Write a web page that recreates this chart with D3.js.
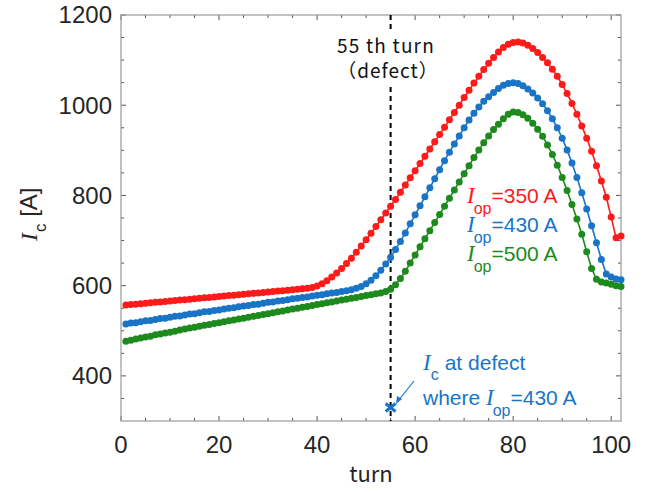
<!DOCTYPE html>
<html><head><meta charset="utf-8">
<script src="https://cdn.jsdelivr.net/npm/d3@7"></script>
<style>body{margin:0;background:#fff}</style>
</head><body>
<script>
// ---- data ----
const turns = d3.range(1, 103);
const red350 = [557,558,559,560,561,562,563,564,565,566,567,568,569,570,571,572,573,574,575,576,
  577,578,579,580,581,582,583,584,585,586,587,588,589,590,591,592,593,594,596,599,
  604,611,619,628,638,649,661,674,688,702,716,731,746,761,776,791,807,823,839,855,
  871,887,903,919,935,951,968,984,1000,1017,1033,1049,1064,1079,1093,1106,1118,1128,1135,1139,
  1140,1138,1133,1126,1117,1106,1094,1080,1064,1046,1026,1004,980,954,927,898,866,832,796,752,
  706,710];
const blue430 = [515,517,518,520,522,523,525,527,528,530,532,533,535,537,538,540,542,543,545,546,
  548,550,551,553,555,556,558,559,561,563,564,566,567,569,571,572,574,575,577,579,
  580,582,584,585,587,589,591,594,598,604,612,622,634,648,663,680,698,717,737,757,
  777,797,817,837,857,877,896,914,932,950,967,982,996,1009,1019,1028,1037,1044,1048,1050,
  1048,1043,1036,1027,1016,1003,988,970,950,927,901,872,840,806,770,733,695,658,626,619,
  615,613];
const green500 = [477,479,482,484,486,488,491,493,495,497,499,502,504,506,508,510,512,514,516,518,
  520,522,524,526,528,530,532,534,536,538,540,542,544,546,548,550,552,554,556,558,
  560,562,564,566,568,570,572,574,576,578,580,582,584,587,592,602,616,632,650,668,
  686,704,722,740,758,776,794,812,830,848,866,884,901,917,932,946,958,970,980,985,
  984,979,971,960,947,931,912,891,867,840,811,780,748,714,675,638,614,608,606,603,
  600,598];
const seriesNames = ["350","430","500"];
const seriesColors = ["#ff1a1a","#1a74c6","#1c8a1c"];
const xMajor = [0,20,40,60,80,100];
const yMajor = [400,600,800,1000,1200];
const defectTurn = 55;
const defectIc = 330;

// ---- chart ----
const W = 652, H = 492;
const svg = d3.select("body").append("svg").attr("width", W).attr("height", H)
  .style("font-family", "'Liberation Sans', Arial, sans-serif");
const x = d3.scaleLinear().domain([0, 102]).range([121, 621]);
const y = d3.scaleLinear().domain([300, 1200]).range([421, 15]);

const frameCol = "#9a9a9a", tickCol = "#555";
const xMinor = d3.range(0, 101, 5).filter(v => !xMajor.includes(v));
const yMinor = d3.range(350, 1200, 50).filter(v => !yMajor.includes(v));

function drawTicks(){
  const g = svg.append("g").attr("stroke", tickCol).attr("stroke-width", 1);
  const L = 5, l = 3;
  xMajor.forEach(v => {
    g.append("line").attr("x1", x(v)).attr("x2", x(v)).attr("y1", y(300)).attr("y2", y(300)-L);
    g.append("line").attr("x1", x(v)).attr("x2", x(v)).attr("y1", y(1200)).attr("y2", y(1200)+L);
  });
  xMinor.forEach(v => {
    g.append("line").attr("x1", x(v)).attr("x2", x(v)).attr("y1", y(300)).attr("y2", y(300)-l);
    g.append("line").attr("x1", x(v)).attr("x2", x(v)).attr("y1", y(1200)).attr("y2", y(1200)+l);
  });
  yMajor.forEach(v => {
    g.append("line").attr("x1", x(0)).attr("x2", x(0)+L).attr("y1", y(v)).attr("y2", y(v));
    g.append("line").attr("x1", x(102)).attr("x2", x(102)-L).attr("y1", y(v)).attr("y2", y(v));
  });
  yMinor.forEach(v => {
    g.append("line").attr("x1", x(0)).attr("x2", x(0)+l).attr("y1", y(v)).attr("y2", y(v));
    g.append("line").attr("x1", x(102)).attr("x2", x(102)-l).attr("y1", y(v)).attr("y2", y(v));
  });
}
drawTicks();

svg.append("rect").attr("x", x(0)).attr("y", y(1200))
  .attr("width", x(102)-x(0)).attr("height", y(300)-y(1200))
  .attr("fill", "none").attr("stroke", frameCol).attr("stroke-width", 1.2);

// tick labels
svg.append("g").selectAll("text").data(xMajor).join("text")
  .attr("x", d => x(d)).attr("y", 453).attr("text-anchor", "middle")
  .attr("font-size", 24).attr("fill", "#262626").text(d => d);
svg.append("g").selectAll("text").data(yMajor).join("text")
  .attr("x", 112).attr("y", d => y(d)).attr("dy", "0.35em").attr("text-anchor", "end")
  .attr("font-size", 24).attr("fill", "#262626").text(d => d);

// axis titles
svg.append("text").attr("x", 371).attr("y", 482).attr("text-anchor", "middle")
  .attr("font-family", "'Noto Sans CJK JP', sans-serif").attr("font-size", 22).attr("fill", "#262626").text("turn");
const yl = svg.append("text").attr("transform", "translate(37,241) rotate(-90)")
  .attr("font-size", 24).attr("fill", "#262626");
yl.append("tspan").attr("font-family", "'Liberation Serif', serif").attr("font-style", "italic").text("I");
yl.append("tspan").attr("font-size", 17).attr("dy", 9).attr("dx", 1).text("c");
yl.append("tspan").attr("dy", -9).text(" [A]");

// defect dashed line
svg.append("line").attr("x1", x(defectTurn)).attr("x2", x(defectTurn))
  .attr("y1", y(1200)).attr("y2", y(300))
  .attr("stroke", "#000").attr("stroke-width", 2).attr("stroke-dasharray", "5,4");
svg.append("rect").attr("x", 334).attr("y", 30).attr("width", 104).attr("height", 54).attr("fill", "#fff");
svg.append("text").attr("x", 386).attr("y", 53).attr("text-anchor", "middle")
  .attr("font-family", "'Noto Sans CJK JP', sans-serif").attr("font-size", 19)
  .attr("letter-spacing", 1.2).attr("fill", "#111").text("55 th turn");
svg.append("text").attr("x", 388).attr("y", 78).attr("text-anchor", "middle")
  .attr("font-family", "'Noto Sans CJK JP', sans-serif").attr("font-size", 19)
  .attr("letter-spacing", 1).attr("fill", "#111").text("（defect）");

// series
const all = [red350, blue430, green500];
const line = d3.line().x((d, i) => x(turns[i])).y(d => y(d));
all.forEach((vals, k) => {
  const g = svg.append("g");
  g.append("path").attr("d", line(vals)).attr("fill", "none")
    .attr("stroke", seriesColors[k]).attr("stroke-width", 1.6);
  g.selectAll("circle").data(vals).join("circle")
    .attr("cx", (d, i) => x(turns[i])).attr("cy", d => y(d)).attr("r", 3.5)
    .attr("fill", seriesColors[k]);
});

// legend text
const legY = [203, 232, 261];
seriesNames.forEach((n, k) => {
  const t = svg.append("text").attr("x", 467).attr("y", legY[k]).attr("font-size", 21).attr("fill", seriesColors[k]);
  t.append("tspan").attr("font-family", "'Liberation Serif', serif").attr("font-style", "italic").attr("font-size", 23).text("I");
  t.append("tspan").attr("font-size", 16).attr("dy", 11).attr("dx", -1).text("op");
  t.append("tspan").attr("dy", -11).text("=" + n + " A");
});

// defect marker & annotation
const bc = seriesColors[1];
const mx = x(defectTurn), my = y(defectIc);
svg.append("path").attr("d", `M${mx-5},${my-4}L${mx+5},${my+4}M${mx+5},${my-4}L${mx-5},${my+4}`)
  .attr("stroke", bc).attr("stroke-width", 3);
svg.append("line").attr("x1", 414).attr("y1", 381).attr("x2", 398).attr("y2", 401)
  .attr("stroke", bc).attr("stroke-width", 1.2);
svg.append("path").attr("d", "M396,404 L397,396 L402,399 Z").attr("fill", bc);
const a1 = svg.append("text").attr("x", 423).attr("y", 370).attr("font-size", 21).attr("fill", bc);
a1.append("tspan").attr("font-family", "'Liberation Serif', serif").attr("font-style", "italic").attr("font-size", 23).text("I");
a1.append("tspan").attr("font-size", 16).attr("dy", 10).text("c");
a1.append("tspan").attr("dy", -10).attr("dx", 6).text("at defect");
const a2 = svg.append("text").attr("x", 423).attr("y", 405).attr("font-size", 21).attr("fill", bc);
a2.append("tspan").text("where ");
a2.append("tspan").attr("font-family", "'Liberation Serif', serif").attr("font-style", "italic").attr("font-size", 23).text("I");
a2.append("tspan").attr("font-size", 16).attr("dy", 11).attr("dx", -1).text("op");
a2.append("tspan").attr("dy", -11).text("=430 A");
</script>
</body></html>
